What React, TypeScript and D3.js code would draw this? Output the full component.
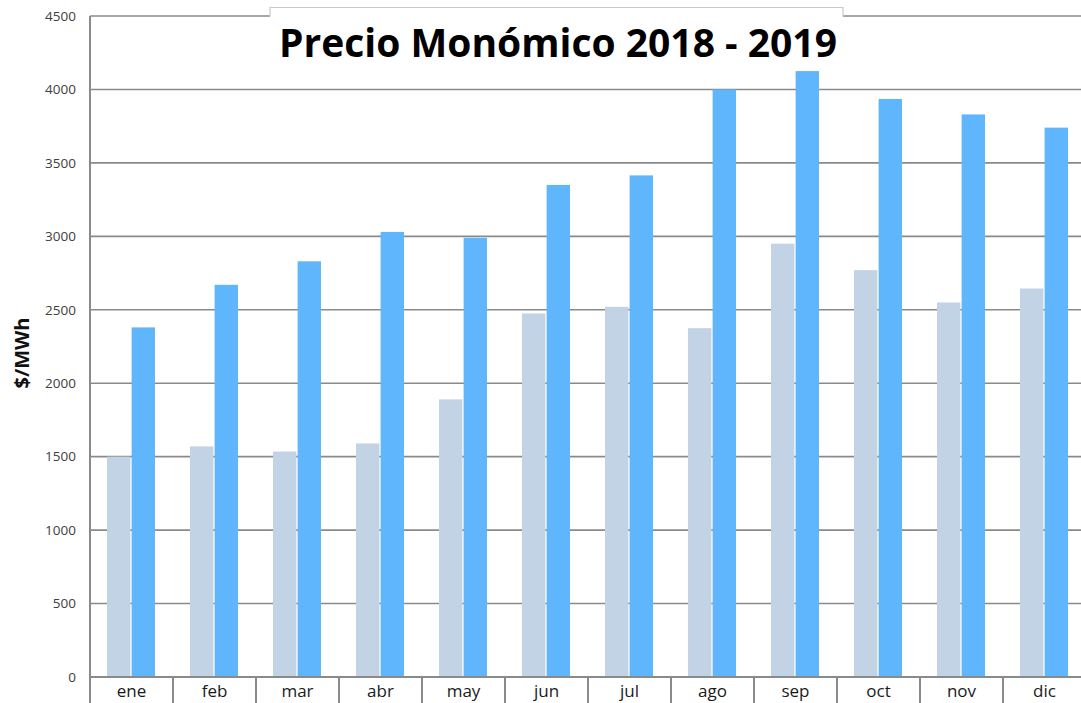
import React, { useEffect, useRef } from 'react';
import * as d3 from 'd3';

const months = ['ene', 'feb', 'mar', 'abr', 'may', 'jun', 'jul', 'ago', 'sep', 'oct', 'nov', 'dic'];
const years = ['2018', '2019'];
const values2018 = [1500, 1570, 1535, 1590, 1890, 2475, 2520, 2375, 2950, 2770, 2550, 2645];
const values2019 = [2380, 2670, 2830, 3030, 2990, 3350, 3415, 4000, 4125, 3935, 3830, 3740];
const yTicks = [0, 500, 1000, 1500, 2000, 2500, 3000, 3500, 4000, 4500];
const title = 'Precio Monómico 2018 - 2019';
const yLabel = '$/MWh';

const App = () => {
    const chartRef = useRef<SVGSVGElement | null>(null);

    useEffect(() => {
        const width = 1081;
        const height = 703;
        const left = 90;
        const top = 16;
        const bottom = 677;
        const gridColour = '#8a8a8a';

        const svg = d3.select(chartRef.current);
        svg.selectAll('*').remove();

        const xScale = d3.scaleBand()
            .domain(months)
            .range([left, left + 83 * months.length])
            .padding(0);

        const inner = d3.scaleBand()
            .domain(years)
            .range([17, 65])
            .paddingInner(0.05);

        const yScale = d3.scaleLinear()
            .domain([0, 4500])
            .range([bottom, top]);

        const colours: Record<string, string> = { '2018': '#c3d3e6', '2019': '#5fb6fd' };

        // gridlines
        svg.append('g')
            .selectAll('line')
            .data(yTicks)
            .enter()
            .append('line')
            .attr('x1', left)
            .attr('x2', width)
            .attr('y1', d => yScale(d))
            .attr('y2', d => yScale(d))
            .attr('stroke', gridColour)
            .attr('stroke-width', 1.6);

        // y tick labels
        svg.append('g')
            .selectAll('text')
            .data(yTicks)
            .enter()
            .append('text')
            .attr('x', 76)
            .attr('y', d => yScale(d))
            .attr('dy', '0.35em')
            .style('text-anchor', 'end')
            .style('font-family', '"Open Sans", sans-serif')
            .style('font-size', '13.5px')
            .style('fill', '#404040')
            .text(d => String(d));

        // title box covering the top gridline
        svg.append('rect')
            .attr('x', 270)
            .attr('y', 7)
            .attr('width', 573)
            .attr('height', 40)
            .attr('fill', 'white');
        svg.append('path')
            .attr('d', 'M270,16.5 V7.5 H843 V16.5')
            .attr('fill', 'none')
            .attr('stroke', '#c8c8c8')
            .attr('stroke-width', 1.2);

        // bars
        const series = [values2018, values2019];
        years.forEach((yr, si) => {
            svg.append('g')
                .selectAll('rect')
                .data(series[si])
                .enter()
                .append('rect')
                .attr('x', (d, i) => (xScale(months[i]) ?? 0) + (inner(yr) ?? 0))
                .attr('y', d => yScale(d))
                .attr('width', inner.bandwidth())
                .attr('height', d => bottom - yScale(d))
                .attr('fill', colours[yr]);
        });

        // axes lines
        svg.append('line')
            .attr('x1', left)
            .attr('x2', left)
            .attr('y1', top)
            .attr('y2', height)
            .attr('stroke', gridColour)
            .attr('stroke-width', 2);
        svg.append('line')
            .attr('x1', left)
            .attr('x2', width)
            .attr('y1', bottom)
            .attr('y2', bottom)
            .attr('stroke', gridColour)
            .attr('stroke-width', 2);

        // category separators
        svg.append('g')
            .selectAll('line')
            .data(months.slice(1))
            .enter()
            .append('line')
            .attr('x1', d => xScale(d) ?? 0)
            .attr('x2', d => xScale(d) ?? 0)
            .attr('y1', bottom)
            .attr('y2', height)
            .attr('stroke', gridColour)
            .attr('stroke-width', 2);

        // month labels
        svg.append('g')
            .selectAll('text')
            .data(months)
            .enter()
            .append('text')
            .attr('x', d => (xScale(d) ?? 0) + xScale.bandwidth() / 2)
            .attr('y', 697)
            .style('text-anchor', 'middle')
            .style('font-family', '"Open Sans", sans-serif')
            .style('font-size', '17px')
            .style('fill', '#1a1a1a')
            .text(d => d);

        svg.append('text')
            .attr('transform', 'translate(29,353) rotate(-90)')
            .style('text-anchor', 'middle')
            .style('font-family', '"Open Sans", sans-serif')
            .style('font-weight', 'bold')
            .style('font-size', '20px')
            .style('fill', '#111')
            .text(yLabel);

        svg.append('text')
            .attr('x', 558)
            .attr('y', 57)
            .style('text-anchor', 'middle')
            .style('font-family', '"Open Sans", sans-serif')
            .style('font-weight', 'bold')
            .style('font-size', '39px')
            .style('fill', '#000')
            .text(title);
    }, []);

    return (
        <svg ref={chartRef} width={1081} height={703}
             style={{ position: 'absolute', left: 0, top: 0, background: 'white' }}></svg>
    );
};

export default App;
